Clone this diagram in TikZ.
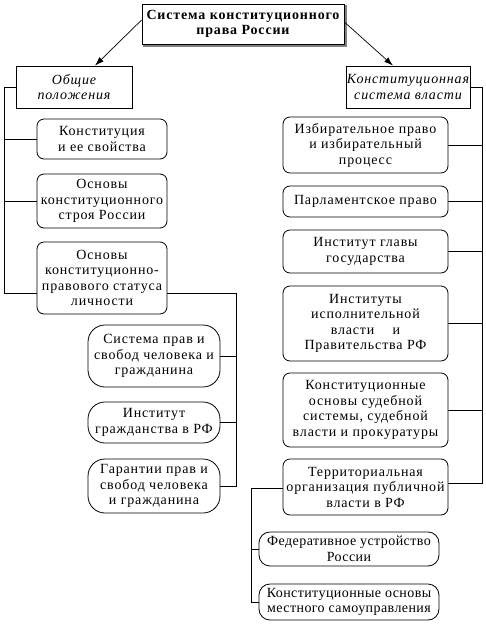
\documentclass[tikz,border=0pt]{standalone}
\usepackage{fontspec}
\setmainfont{Liberation Serif}[LetterSpace=6]
\newfontfamily\tightfont{Liberation Serif}[LetterSpace=3]
\usetikzlibrary{arrows.meta}
\newcommand\normtxt{\fontsize{14}{15.5}\selectfont}
\tikzset{
  box/.style={draw, rounded corners=7pt, line width=0.8pt, align=center, inner sep=1pt, font=\normtxt},
  pill/.style={box, rounded corners=17pt},
  fpill/.style={box, rounded corners=11pt, font=\tightfont\normtxt},
  plainbox/.style={draw, line width=0.8pt, align=center, inner sep=1pt, font=\normtxt\itshape},
  conn/.style={line width=0.7pt},
  arr/.style={line width=0.7pt, -{Latex[length=9pt,width=6pt]}},
}
\begin{document}
\begin{tikzpicture}[x=1pt,y=-1pt]
\useasboundingbox (0,0) rectangle (486,630);
% title with shadow
\node[draw, line width=0.8pt, align=center, inner sep=1pt, font=\normtxt\bfseries,
      minimum width=202, minimum height=40] (title) at (243,24)
      {Система конституционного\\права России};
\draw[gray, line width=1.6pt] ([xshift=1.6pt,yshift=-1pt]title.north east) -- ([xshift=1.6pt,yshift=-1.6pt]title.south east) -- ([xshift=1pt,yshift=-1.6pt]title.south west);
% level 1
\node[plainbox, minimum width=116, minimum height=42] (obsh) at (74,87) {Общие\\положения};
\node[plainbox, minimum width=120, minimum height=42] (kons) at (408,87) {Конституционная\\система власти};
\draw[arr] ([yshift=4pt]title.west) -- ([xshift=21pt]obsh.north);
\draw[arr] ([yshift=2pt]title.east) -- ([xshift=-15pt]kons.north);
% left column
\node[box, minimum width=130, minimum height=40] (L1) at (102,139) {Конституция\\и ее свойства};
\node[box, minimum width=130, minimum height=54] (L2) at (102,201) {Основы\\конституционного\\строя России};
\node[box, minimum width=130, minimum height=72] (L3) at (102,278) {Основы\\конституционно-\\правового статуса\\личности};
\node[pill, minimum width=132, minimum height=62] (S1) at (154,356) {Система прав и\\свобод человека и\\гражданина};
\node[pill, minimum width=132, minimum height=41] (S2) at (154,422.5) {Институт\\гражданства в РФ};
\node[pill, minimum width=132, minimum height=54] (S3) at (154,486) {Гарантии прав и\\свобод человека\\и гражданина};
% right column
\node[box, minimum width=165, minimum height=56] (R1) at (365.5,145) {Избирательное право\\и избирательный\\процесс};
\node[box, minimum width=165, minimum height=31] (R2) at (365.5,201.5) {Парламентское право};
\node[box, minimum width=165, minimum height=43] (R3) at (365.5,251.5) {Институт главы\\государства};
\node[box, minimum width=165, minimum height=75] (R4) at (365.5,323.5) {Институты\\исполнительной\\власти \quad и\\Правительства РФ};
\node[box, minimum width=165, minimum height=74] (R5) at (365.5,410) {Конституционные\\основы судебной\\системы, судебной\\власти и прокуратуры};
\node[box, minimum width=165, minimum height=56] (R6) at (365.5,487) {Территориальная\\организация публичной\\власти в РФ};
\node[fpill, minimum width=180, minimum height=34] (F1) at (349,549) {Федеративное устройство\\России};
\node[fpill, minimum width=180, minimum height=36] (F2) at (349,602) {Конституционные основы\\местного самоуправления};
% trunks
\coordinate (ltop) at (4,87);
\coordinate (lbot) at (4,293);
\coordinate (stop) at (236,293);
\coordinate (rtop) at (482,87);
\coordinate (rbot) at (482,483);
\coordinate (ftop) at (251,488);
\draw[conn] (obsh.west) -- (ltop) -- (lbot) -- (L3.west |- lbot);
\draw[conn] (L1.west) -- (L1.west -| ltop);
\draw[conn] (L2.west) -- (L2.west -| ltop);
\draw[conn] (L3.east |- stop) -- (stop) |- (S3.east);
\draw[conn] (S1.east) -- (S1.east -| stop);
\draw[conn] (S2.east) -- (S2.east -| stop);
\draw[conn] (kons.east) -- (rtop) -- (rbot) -- (R6.east |- rbot);
\draw[conn] (R1.east) -- (R1.east -| rtop);
\draw[conn] (R2.east) -- (R2.east -| rtop);
\draw[conn] (R3.east) -- (R3.east -| rtop);
\draw[conn] (R4.east) -- (R4.east -| rtop);
\draw[conn] (R5.east) -- (R5.east -| rtop);
\draw[conn] (R6.west |- ftop) -- (ftop) |- (F2.west);
\draw[conn] (F1.west) -- (F1.west -| ftop);
\end{tikzpicture}
\end{document}
